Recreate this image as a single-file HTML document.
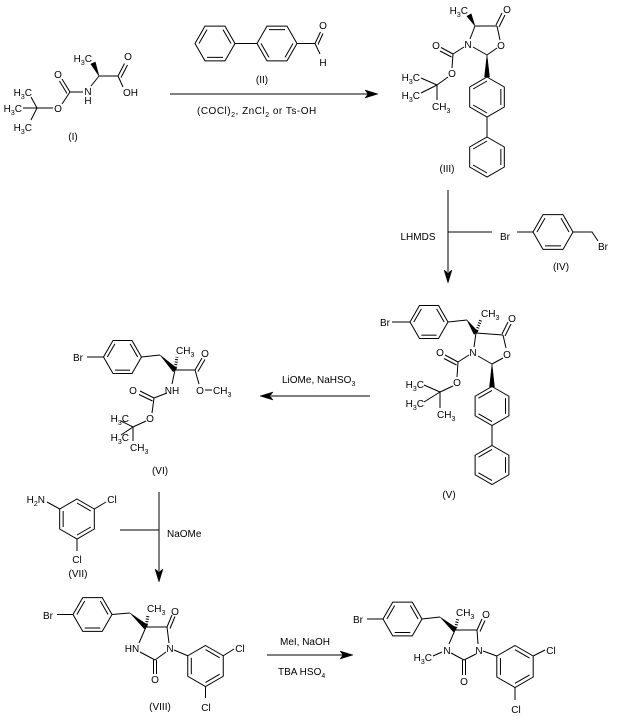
<!DOCTYPE html>
<html>
<head>
<meta charset="utf-8">
<style>
  html, body { margin:0; padding:0; background:#fff; }
  svg { display:block; }
  text { font-family: "Liberation Sans", Arial, sans-serif; font-size:10px; fill:#000; }
  .s { font-size:7px; }
</style>
</head>
<body>
<svg width="617" height="722" viewBox="0 0 617 722" xmlns="http://www.w3.org/2000/svg">
<g stroke="#000" stroke-width="1" fill="none" stroke-linecap="butt">

<!-- ===== Compound I ===== -->
<line x1="99" y1="76" x2="118" y2="76"/>
<line x1="118" y1="76" x2="124.5" y2="63.5"/>
<line x1="121" y1="77.5" x2="127.5" y2="65"/>
<line x1="118" y1="76" x2="123" y2="87"/>
<line x1="99" y1="76" x2="91" y2="86"/>
<line x1="83" y1="92" x2="70" y2="92"/>
<line x1="70" y1="92" x2="62" y2="79"/>
<line x1="67" y1="93.5" x2="59.5" y2="81"/>
<line x1="70" y1="92" x2="62" y2="104"/>
<line x1="53" y1="108" x2="37" y2="108"/>
<line x1="37" y1="108" x2="31" y2="97"/>
<line x1="37" y1="108" x2="23" y2="108"/>
<line x1="37" y1="108" x2="31" y2="120"/>

<!-- Arrow 1 -->
<line x1="170" y1="94" x2="368" y2="94"/>

<!-- ===== Compound II ===== -->
<polygon points="195,43.5 205,26.18 225,26.18 235,43.5 225,60.82 205,60.82"/>
<line x1="199" y1="43.5" x2="207" y2="29.64"/>
<line x1="223" y1="29.64" x2="231" y2="43.5"/>
<line x1="223" y1="57.36" x2="207" y2="57.36"/>
<line x1="235" y1="43.5" x2="257" y2="43.5"/>
<polygon points="257,43.5 267,26.18 287,26.18 297,43.5 287,60.82 267,60.82"/>
<line x1="269" y1="29.64" x2="285" y2="29.64"/>
<line x1="293" y1="43.5" x2="285" y2="57.36"/>
<line x1="269" y1="57.36" x2="261" y2="43.5"/>
<line x1="297" y1="43.5" x2="315" y2="43.5"/>
<line x1="315" y1="43.5" x2="320.5" y2="32"/>
<line x1="318" y1="44.5" x2="323" y2="33.5"/>
<line x1="315" y1="43.5" x2="320" y2="54"/>

<!-- ===== Compound III ===== -->
<line x1="475" y1="26" x2="497" y2="26"/>
<line x1="496" y1="25" x2="502" y2="13"/>
<line x1="499" y1="27" x2="505" y2="15"/>
<line x1="497" y1="26" x2="500" y2="40"/>
<line x1="497" y1="48" x2="487" y2="55"/>
<line x1="487" y1="55" x2="473" y2="47"/>
<line x1="470" y1="39" x2="475" y2="26"/>
<line x1="464" y1="47" x2="453" y2="54"/>
<line x1="453" y1="54" x2="441" y2="47.5"/>
<line x1="451.5" y1="57" x2="440" y2="51"/>
<line x1="453" y1="54" x2="452" y2="68"/>
<line x1="448" y1="77" x2="437" y2="85"/>
<line x1="437" y1="85" x2="421" y2="78"/>
<line x1="437" y1="85" x2="421" y2="93"/>
<line x1="437" y1="85" x2="437" y2="100"/>
<!-- ring A -->
<polygon points="487,77 504.32,87 504.32,107 487,117 469.68,107 469.68,87"/>
<line x1="500.86" y1="89" x2="500.86" y2="105"/>
<line x1="487" y1="113" x2="473.14" y2="105"/>
<line x1="473.14" y1="89" x2="487" y2="81"/>
<line x1="487" y1="117" x2="487" y2="137"/>
<!-- ring B -->
<polygon points="487,137 504.32,147 504.32,167 487,177 469.68,167 469.68,147"/>
<line x1="500.86" y1="149" x2="500.86" y2="165"/>
<line x1="487" y1="173" x2="473.14" y2="165"/>
<line x1="473.14" y1="149" x2="487" y2="141"/>

<!-- LHMDS arrow -->
<line x1="448" y1="190" x2="448" y2="272"/>
<line x1="448" y1="232" x2="492" y2="232"/>

<!-- ===== Compound IV ===== -->
<line x1="517" y1="232" x2="533" y2="232"/>
<polygon points="533,232 543,214.68 563,214.68 573,232 563,249.32 543,249.32"/>
<line x1="537" y1="232" x2="545" y2="218.14"/>
<line x1="561" y1="218.14" x2="569" y2="232"/>
<line x1="561" y1="245.86" x2="545" y2="245.86"/>
<polyline points="573,232 592,232 598,241"/>

<!-- ===== Compound V ===== -->
<line x1="392" y1="322" x2="410" y2="322"/>
<polygon points="410,322 419.5,305.55 438.5,305.55 448,322 438.5,338.45 419.5,338.45"/>
<line x1="413.8" y1="322" x2="421.4" y2="308.84"/>
<line x1="436.6" y1="308.84" x2="444.2" y2="322"/>
<line x1="436.6" y1="335.16" x2="421.4" y2="335.16"/>
<line x1="448" y1="322" x2="467" y2="320"/>
<line x1="476" y1="333" x2="481" y2="319" stroke-width="3" stroke-dasharray="1 1.5"/>
<line x1="476" y1="333" x2="503" y2="335"/>
<line x1="502" y1="334" x2="508" y2="322"/>
<line x1="505" y1="336" x2="511" y2="324"/>
<line x1="503" y1="335" x2="506" y2="348"/>
<line x1="503" y1="358" x2="492" y2="364"/>
<line x1="492" y1="364" x2="478" y2="356"/>
<line x1="474" y1="347" x2="476" y2="333"/>
<line x1="469" y1="355" x2="458" y2="362"/>
<line x1="458" y1="362" x2="445" y2="355"/>
<line x1="456.5" y1="365" x2="444" y2="358.5"/>
<line x1="458" y1="362" x2="457" y2="377"/>
<line x1="453" y1="386" x2="440" y2="392"/>
<line x1="440" y1="392" x2="424" y2="385"/>
<line x1="440" y1="392" x2="424" y2="402"/>
<line x1="440" y1="392" x2="440" y2="408"/>
<polygon points="492,386.5 508.89,396.25 508.89,415.75 492,425.5 475.11,415.75 475.11,396.25"/>
<line x1="505.51" y1="398.2" x2="505.51" y2="413.8"/>
<line x1="492" y1="421.6" x2="478.49" y2="413.8"/>
<line x1="478.49" y1="398.2" x2="492" y2="390.4"/>
<line x1="492" y1="425.5" x2="492" y2="445.5"/>
<polygon points="492,445.5 508.89,455.25 508.89,474.75 492,484.5 475.11,474.75 475.11,455.25"/>
<line x1="505.51" y1="457.2" x2="505.51" y2="472.8"/>
<line x1="492" y1="480.6" x2="478.49" y2="472.8"/>
<line x1="478.49" y1="457.2" x2="492" y2="449.4"/>

<!-- LiOMe arrow -->
<line x1="271" y1="396" x2="370" y2="396"/>

<!-- ===== Compound VI ===== -->
<line x1="87" y1="357" x2="103.5" y2="357"/>
<polygon points="103.5,357 113,340.55 132,340.55 141.5,357 132,373.45 113,373.45"/>
<line x1="107.3" y1="357" x2="114.9" y2="343.84"/>
<line x1="130.1" y1="343.84" x2="137.7" y2="357"/>
<line x1="130.1" y1="370.16" x2="114.9" y2="370.16"/>
<line x1="141.5" y1="357" x2="160" y2="355"/>
<line x1="175" y1="370" x2="177" y2="357" stroke-width="3" stroke-dasharray="1 1.5"/>
<line x1="175" y1="370" x2="195" y2="370"/>
<line x1="195" y1="370" x2="202" y2="358"/>
<line x1="198" y1="371.5" x2="205" y2="359.5"/>
<line x1="195" y1="370" x2="199" y2="384"/>
<line x1="205" y1="390" x2="212" y2="390"/>
<line x1="175" y1="370" x2="172" y2="384"/>
<line x1="167" y1="393" x2="154" y2="398"/>
<line x1="154" y1="398" x2="140" y2="391"/>
<line x1="152.5" y1="401" x2="139" y2="394.5"/>
<line x1="154" y1="398" x2="152" y2="413"/>
<line x1="146" y1="421" x2="133" y2="427"/>
<line x1="133" y1="427" x2="121" y2="421"/>
<line x1="133" y1="427" x2="121" y2="435"/>
<line x1="133" y1="427" x2="133" y2="441"/>

<!-- ===== Compound VII ===== -->
<line x1="47" y1="502" x2="59.68" y2="509"/>
<polygon points="77,499 94.32,509 94.32,529 77,539 59.68,529 59.68,509"/>
<line x1="77" y1="503" x2="90.86" y2="511"/>
<line x1="90.86" y1="527" x2="77" y2="535"/>
<line x1="63.14" y1="527" x2="63.14" y2="511"/>
<line x1="94.32" y1="509" x2="106" y2="502"/>
<line x1="77" y1="539" x2="77" y2="551"/>

<!-- NaOMe arrow -->
<line x1="159" y1="492" x2="159" y2="571"/>
<line x1="120" y1="530" x2="159" y2="530"/>

<!-- ===== Compound VIII ===== -->
<line x1="57" y1="614.5" x2="73" y2="614.5"/>
<polygon points="73,614.5 82.75,597.61 102.25,597.61 112,614.5 102.25,631.39 82.75,631.39"/>
<line x1="76.9" y1="614.5" x2="84.7" y2="601"/>
<line x1="100.3" y1="601" x2="108.1" y2="614.5"/>
<line x1="100.3" y1="628" x2="84.7" y2="628"/>
<line x1="112" y1="614.5" x2="130" y2="613"/>
<line x1="146" y1="627" x2="148" y2="615" stroke-width="3" stroke-dasharray="1 1.5"/>
<line x1="146" y1="627" x2="167" y2="627"/>
<line x1="167" y1="627" x2="172" y2="615"/>
<line x1="170" y1="628.5" x2="175" y2="616.5"/>
<line x1="167" y1="627" x2="169" y2="643"/>
<line x1="166" y1="652" x2="155" y2="660"/>
<line x1="153.5" y1="660" x2="153.5" y2="674"/>
<line x1="156.5" y1="660" x2="156.5" y2="674"/>
<line x1="155" y1="660" x2="140" y2="652"/>
<line x1="139" y1="643" x2="146" y2="627"/>
<line x1="174" y1="650" x2="187.75" y2="655.75"/>
<polygon points="205.5,645.5 223.25,655.75 223.25,676.25 205.5,686.5 187.75,676.25 187.75,655.75"/>
<line x1="205.5" y1="649.6" x2="219.7" y2="657.8"/>
<line x1="219.7" y1="674.2" x2="205.5" y2="682.4"/>
<line x1="191.3" y1="674.2" x2="191.3" y2="657.8"/>
<line x1="223.25" y1="655.75" x2="234" y2="649"/>
<line x1="205.5" y1="686.5" x2="205.5" y2="698"/>

<!-- Final arrow -->
<line x1="267" y1="655" x2="343" y2="655"/>

<!-- ===== Final compound ===== -->
<line x1="367" y1="619" x2="383" y2="619"/>
<polygon points="383,619 392.75,602.11 412.25,602.11 422,619 412.25,635.89 392.75,635.89"/>
<line x1="386.9" y1="619" x2="394.7" y2="605.49"/>
<line x1="410.3" y1="605.49" x2="418.1" y2="619"/>
<line x1="410.3" y1="632.51" x2="394.7" y2="632.51"/>
<line x1="422" y1="619" x2="440" y2="617"/>
<line x1="455" y1="630" x2="458" y2="618" stroke-width="3" stroke-dasharray="1 1.5"/>
<line x1="455" y1="630" x2="477" y2="630"/>
<line x1="477" y1="630" x2="482" y2="619"/>
<line x1="480" y1="631.5" x2="485" y2="620.5"/>
<line x1="477" y1="630" x2="478" y2="644"/>
<line x1="476" y1="654" x2="464" y2="660"/>
<line x1="462.5" y1="660" x2="462.5" y2="675"/>
<line x1="465.5" y1="660" x2="465.5" y2="675"/>
<line x1="464" y1="660" x2="451" y2="653"/>
<line x1="449" y1="644" x2="455" y2="630"/>
<line x1="433" y1="656" x2="442" y2="652"/>
<line x1="483" y1="651" x2="496.81" y2="656"/>
<polygon points="515,645.5 533.19,656 533.19,677 515,687.5 496.81,677 496.81,656"/>
<line x1="515" y1="649.7" x2="529.55" y2="658.1"/>
<line x1="529.55" y1="674.9" x2="515" y2="683.3"/>
<line x1="500.45" y1="674.9" x2="500.45" y2="658.1"/>
<line x1="533.19" y1="656" x2="545" y2="650"/>
<line x1="515" y1="687.5" x2="515" y2="700"/>
</g>

<!-- filled shapes: wedges and arrowheads -->
<g fill="#000" stroke="#000" stroke-width="0.5">
<polygon points="99,76 95.3,62 90.7,64"/>
<polygon points="475,26 471.2,13.8 466.8,16.2"/>
<polygon points="487,55 484.5,77 489.5,77"/>
<polygon points="467,320 474,334.4 478,331.6"/>
<polygon points="492,364 489.5,387 494.5,387"/>
<polygon points="160,355 173.2,371.8 176.8,368.2"/>
<polygon points="130,613 144.35,628.9 147.65,625.1"/>
<polygon points="440,617 453.4,631.9 456.6,628.1"/>
<!-- arrowheads -->
<polygon points="378,94 365,90 368,94 365,98"/>
<polygon points="448,283 444,270 448,273 452,270"/>
<polygon points="260,396 273,392 270,396 273,400"/>
<polygon points="159,582 155,569 159,572 163,569"/>
<polygon points="353,655 340,651 343,655 340,659"/>
</g>

<!-- ===== TEXT ===== -->
<!-- I -->
<text x="92" y="62" text-anchor="end">H<tspan class="s" dy="3">3</tspan><tspan dy="-3">C</tspan></text>
<text x="128" y="60" text-anchor="middle">O</text>
<text x="123" y="96">OH</text>
<text x="88" y="95" text-anchor="middle">N</text>
<text x="88" y="104" text-anchor="middle">H</text>
<text x="58" y="78" text-anchor="middle">O</text>
<text x="58" y="112" text-anchor="middle">O</text>
<text x="32" y="96" text-anchor="end">H<tspan class="s" dy="3">3</tspan><tspan dy="-3">C</tspan></text>
<text x="22" y="112" text-anchor="end">H<tspan class="s" dy="3">3</tspan><tspan dy="-3">C</tspan></text>
<text x="32" y="131" text-anchor="end">H<tspan class="s" dy="3">3</tspan><tspan dy="-3">C</tspan></text>
<text x="73" y="140" text-anchor="middle">(I)</text>

<!-- II -->
<text x="323" y="29" text-anchor="middle">O</text>
<text x="323" y="66" text-anchor="middle">H</text>
<text x="262" y="83" text-anchor="middle">(II)</text>
<text x="197" y="114" letter-spacing="0.5">(COCl)<tspan class="s" dy="3">2</tspan><tspan dy="-3">, ZnCl</tspan><tspan class="s" dy="3">2</tspan><tspan dy="-3"> or Ts-OH</tspan></text>

<!-- III -->
<text x="468" y="14" text-anchor="end">H<tspan class="s" dy="3">3</tspan><tspan dy="-3">C</tspan></text>
<text x="507" y="13" text-anchor="middle">O</text>
<text x="468" y="48" text-anchor="middle">N</text>
<text x="501" y="49" text-anchor="middle">O</text>
<text x="436" y="49" text-anchor="middle">O</text>
<text x="452" y="77" text-anchor="middle">O</text>
<text x="420" y="81" text-anchor="end">H<tspan class="s" dy="3">3</tspan><tspan dy="-3">C</tspan></text>
<text x="420" y="99" text-anchor="end">H<tspan class="s" dy="3">3</tspan><tspan dy="-3">C</tspan></text>
<text x="432" y="110">CH<tspan class="s" dy="3">3</tspan></text>
<text x="447" y="172" text-anchor="middle">(III)</text>

<!-- LHMDS / IV -->
<text x="418" y="240" text-anchor="middle">LHMDS</text>
<text x="505" y="240" text-anchor="middle">Br</text>
<text x="603" y="250" text-anchor="middle">Br</text>
<text x="561" y="270" text-anchor="middle">(IV)</text>

<!-- V -->
<text x="385" y="326" text-anchor="middle">Br</text>
<text x="481" y="317">CH<tspan class="s" dy="3">3</tspan></text>
<text x="512" y="322" text-anchor="middle">O</text>
<text x="473" y="356" text-anchor="middle">N</text>
<text x="507" y="358" text-anchor="middle">O</text>
<text x="440" y="356" text-anchor="middle">O</text>
<text x="457" y="386" text-anchor="middle">O</text>
<text x="424" y="388" text-anchor="end">H<tspan class="s" dy="3">3</tspan><tspan dy="-3">C</tspan></text>
<text x="424" y="407" text-anchor="end">H<tspan class="s" dy="3">3</tspan><tspan dy="-3">C</tspan></text>
<text x="437" y="418">CH<tspan class="s" dy="3">3</tspan></text>
<text x="449" y="498" text-anchor="middle">(V)</text>

<!-- LiOMe -->
<text x="282" y="383">LiOMe, NaHSO<tspan class="s" dy="3">3</tspan></text>

<!-- VI -->
<text x="78" y="361" text-anchor="middle">Br</text>
<text x="176" y="354">CH<tspan class="s" dy="3">3</tspan></text>
<text x="205" y="357" text-anchor="middle">O</text>
<text x="200" y="394" text-anchor="middle">O</text>
<text x="213" y="394">CH<tspan class="s" dy="3">3</tspan></text>
<text x="172" y="394" text-anchor="middle">NH</text>
<text x="133" y="394" text-anchor="middle">O</text>
<text x="150" y="422" text-anchor="middle">O</text>
<text x="129" y="422" text-anchor="end">H<tspan class="s" dy="3">3</tspan><tspan dy="-3">C</tspan></text>
<text x="129" y="441" text-anchor="end">H<tspan class="s" dy="3">3</tspan><tspan dy="-3">C</tspan></text>
<text x="130" y="451">CH<tspan class="s" dy="3">3</tspan></text>
<text x="160" y="474" text-anchor="middle">(VI)</text>

<!-- VII -->
<text x="45" y="503" text-anchor="end">H<tspan class="s" dy="3">2</tspan><tspan dy="-3">N</tspan></text>
<text x="112" y="503" text-anchor="middle">Cl</text>
<text x="77" y="563" text-anchor="middle">Cl</text>
<text x="78" y="577" text-anchor="middle">(VII)</text>
<text x="167" y="537">NaOMe</text>

<!-- VIII -->
<text x="48" y="619" text-anchor="middle">Br</text>
<text x="147" y="612">CH<tspan class="s" dy="3">3</tspan></text>
<text x="175" y="615" text-anchor="middle">O</text>
<text x="170" y="652" text-anchor="middle">N</text>
<text x="132" y="652" text-anchor="middle">HN</text>
<text x="155" y="683" text-anchor="middle">O</text>
<text x="240" y="652" text-anchor="middle">Cl</text>
<text x="206" y="711" text-anchor="middle">Cl</text>
<text x="160" y="710" text-anchor="middle">(VIII)</text>

<!-- final arrow text -->
<text x="305" y="645" text-anchor="middle">MeI, NaOH</text>
<text x="278" y="675">TBA HSO<tspan class="s" dy="3">4</tspan></text>

<!-- final compound -->
<text x="358" y="623" text-anchor="middle">Br</text>
<text x="456" y="616">CH<tspan class="s" dy="3">3</tspan></text>
<text x="486" y="618" text-anchor="middle">O</text>
<text x="479" y="654" text-anchor="middle">N</text>
<text x="447" y="654" text-anchor="middle">N</text>
<text x="432" y="661" text-anchor="end">H<tspan class="s" dy="3">3</tspan><tspan dy="-3">C</tspan></text>
<text x="464" y="685" text-anchor="middle">O</text>
<text x="551" y="654" text-anchor="middle">Cl</text>
<text x="516" y="713" text-anchor="middle">Cl</text>
</svg>
</body>
</html>
